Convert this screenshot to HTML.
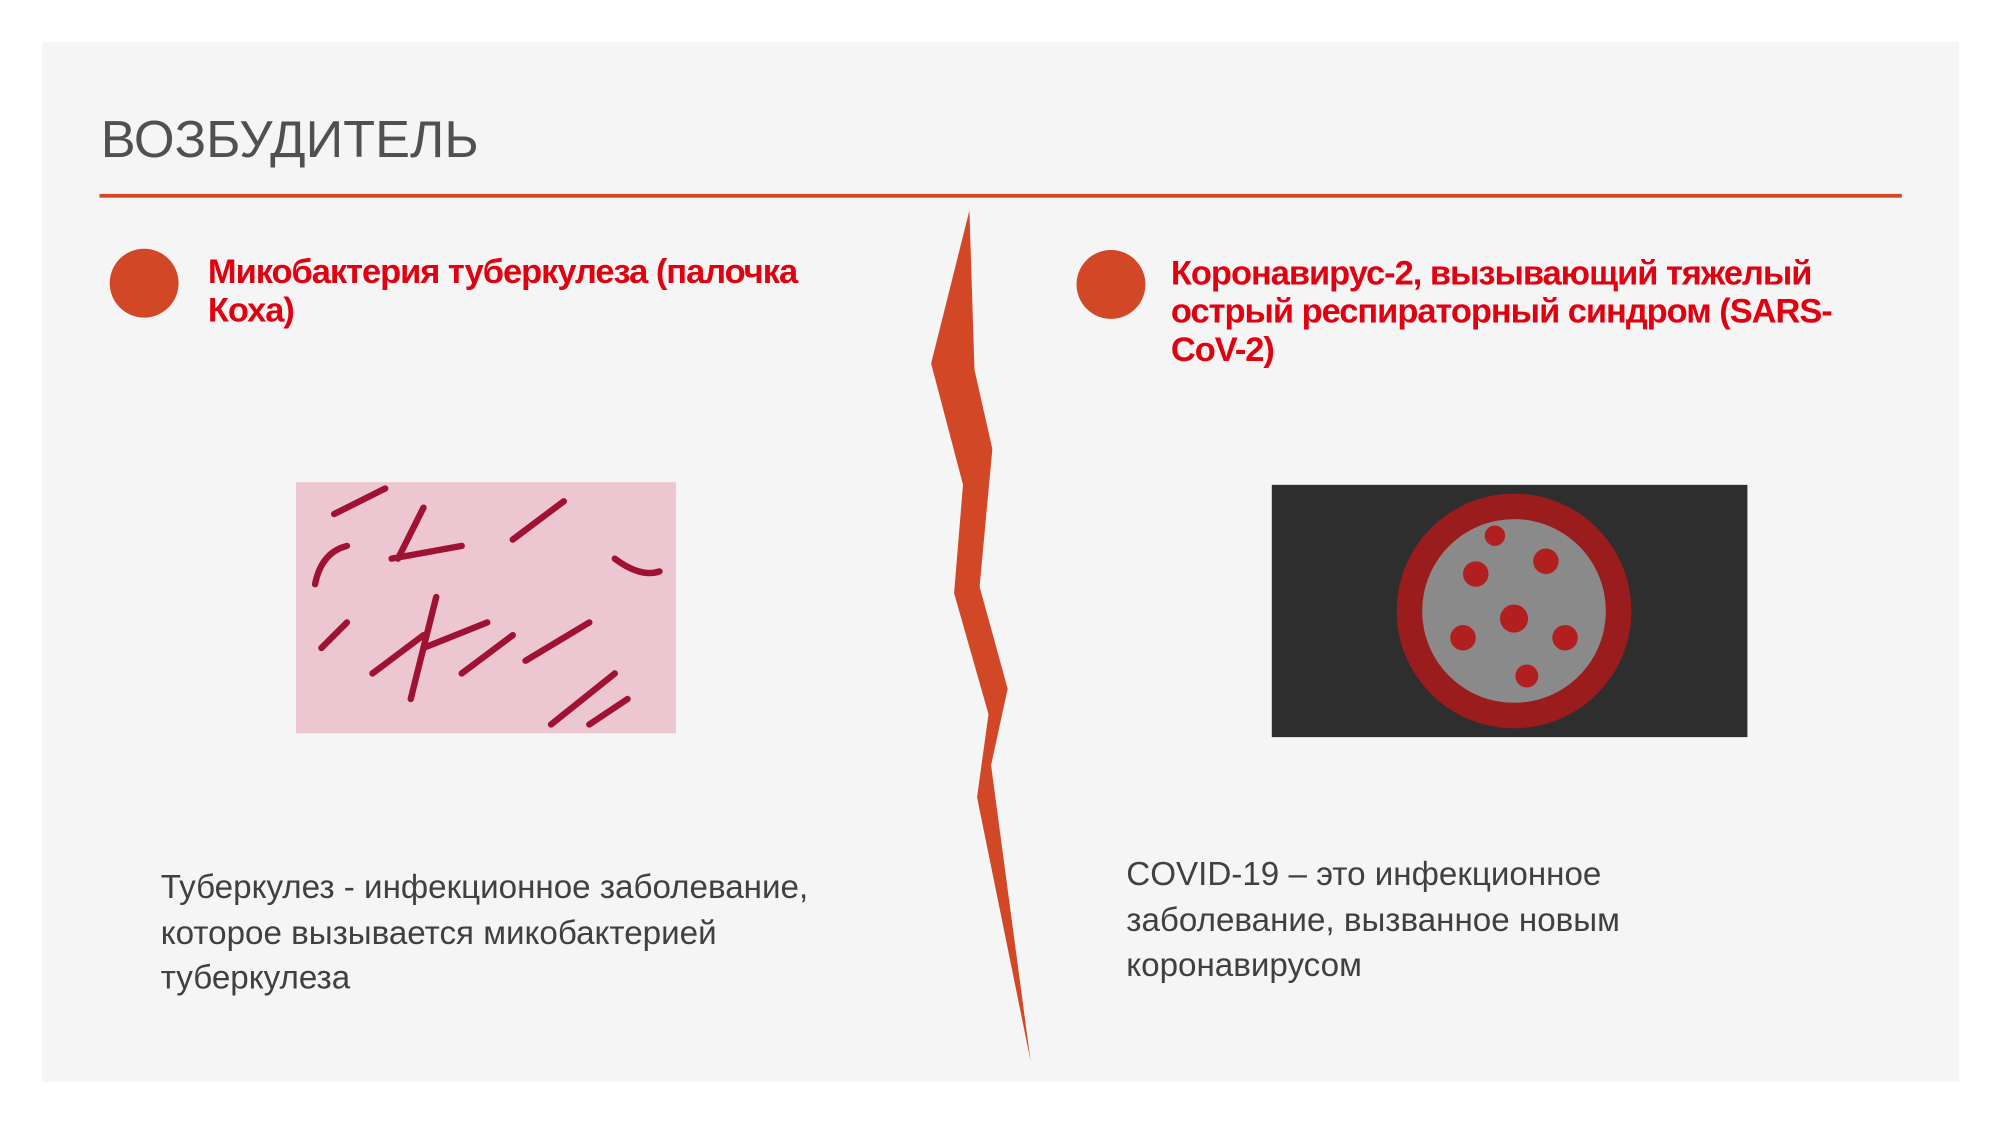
<!DOCTYPE html>
<html><head><meta charset="utf-8"><style>
html,body{margin:0;padding:0;width:2000px;height:1125px;overflow:hidden;background:#fff}
#s{position:absolute;left:0;top:0;width:1568px;height:882px;transform:scale(1.27551);transform-origin:0 0;font-family:"Segoe UI","Liberation Sans","Noto Sans CJK SC",sans-serif}
.abs{position:absolute}
</style></head><body>
<div id="s">
<div class="abs" style="left:33px;top:33px;width:1503px;height:815px;background:#f5f5f5"></div>
<div class="abs" style="left:79px;top:86px;font-size:41px;color:#505050;letter-spacing:0px;font-weight:300">ВОЗБУДИТЕЛЬ</div>
<div class="abs" style="left:78px;top:152px;width:1413px;height:3px;background:#d24726"></div>
<svg class="abs" style="left:0;top:0" width="1568" height="882">
<polygon points="760,165 730,285 755,380 748,465 775,560 766,625 808,832 777,600 790,540 768,460 778,352 764,290" fill="#d24726"/>
</svg>
<div class="abs" style="left:86px;top:195px;width:54px;height:54px;border-radius:50%;background:#d24726"></div>
<div class="abs" style="left:844px;top:196px;width:54px;height:54px;border-radius:50%;background:#d24726"></div>
<div class="abs" style="left:163px;top:198px;width:500px;font-size:27px;line-height:30px;color:#e0000f;font-weight:600;letter-spacing:-0.8px">Микобактерия туберкулеза (палочка Коха)</div>
<div class="abs" style="left:918px;top:199px;width:540px;font-size:27px;line-height:30px;color:#e0000f;font-weight:600;letter-spacing:-0.8px">Коронавирус-2, вызывающий тяжелый острый респираторный синдром (SARS-CoV-2)</div>
<svg class="abs" style="left:232px;top:378px" width="298" height="197">
<rect width="298" height="197" fill="#ecc7d1"/>
<g stroke="#a01233" stroke-width="5" stroke-linecap="round" fill="none">
<path d="M30,25 L70,5"/><path d="M15,80 Q20,55 40,50"/><path d="M80,60 L100,20"/><path d="M75,60 L130,50"/><path d="M170,45 L210,15"/><path d="M250,60 Q270,75 285,70"/><path d="M90,170 L110,90"/><path d="M100,130 L150,110"/><path d="M60,150 L100,120"/><path d="M180,140 L230,110"/><path d="M20,130 L40,110"/><path d="M200,190 L250,150"/><path d="M230,190 L260,170"/><path d="M130,150 L170,120"/>
</g></svg>
<svg class="abs" style="left:997px;top:380px" width="373" height="198">
<rect width="373" height="198" fill="#2e2e2e"/>
<circle cx="190" cy="99" r="92" fill="#9a1c1c"/>
<circle cx="190" cy="99" r="72" fill="#8a8a8a"/>
<g fill="#b11f1f"><circle cx="160" cy="70" r="10"/><circle cx="215" cy="60" r="10"/><circle cx="190" cy="105" r="11"/><circle cx="150" cy="120" r="10"/><circle cx="230" cy="120" r="10"/><circle cx="200" cy="150" r="9"/><circle cx="175" cy="40" r="8"/></g>
</svg>
<div class="abs" style="left:126px;top:678px;width:580px;font-size:26px;line-height:35.5px;color:#404040;font-weight:300">Туберкулез - инфекционное заболевание, которое вызывается микобактерией туберкулеза</div>
<div class="abs" style="left:883px;top:668px;width:450px;font-size:26px;line-height:35.5px;color:#404040;font-weight:300">COVID-19 – это инфекционное заболевание, вызванное новым коронавирусом</div>
</div>
</body></html>
